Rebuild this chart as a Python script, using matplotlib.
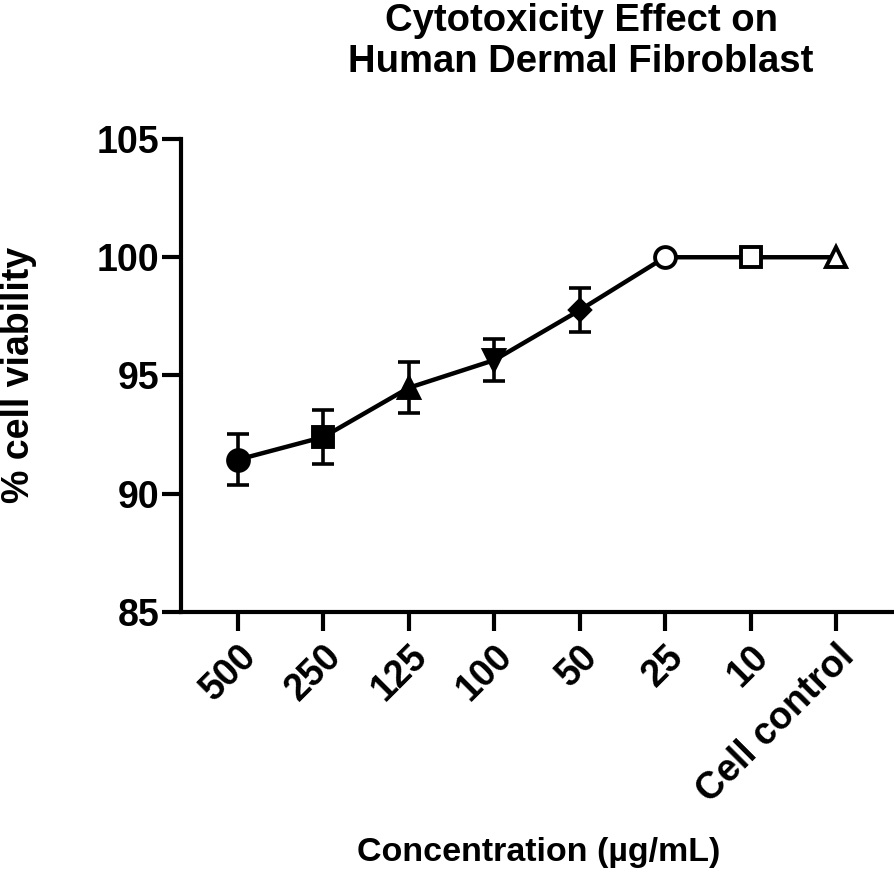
import matplotlib
matplotlib.use("Agg")
import matplotlib.pyplot as plt
import numpy as np

plt.rcParams['font.family'] = ['Liberation Sans', 'DejaVu Sans']
plt.rcParams['font.weight'] = 'bold'

# data
labels = ["500", "250", "125", "100", "50", "25", "10", "Cell control"]
viability = [91.44, 92.40, 94.48, 95.65, 97.76, 100.0, 100.0, 100.0]
sem = [1.09, 1.16, 1.07, 0.90, 0.93, 0.0, 0.0, 0.0]
markers = ["o", "s", "^", "v", "D", "o", "s", "^"]
filled = [True, True, True, True, True, False, False, False]
msizes = [15, 15, 15, 15, 10, 15, 14, 15]

x = np.arange(len(labels))

fig = plt.figure(figsize=(8.94, 8.71), dpi=100)
ax = fig.add_axes([0.2025, 0.2974, 0.7975, 0.543])

ax.plot(x, viability, color="black", lw=3.2, zorder=2)
for i in range(len(x)):
    if sem[i] > 0:
        ax.errorbar(x[i], viability[i], yerr=sem[i], fmt="none", ecolor="black",
                    elinewidth=2.6, capsize=8, capthick=2.6, zorder=1)
    ax.plot(x[i], viability[i], marker=markers[i], ms=msizes[i], color="black",
            mfc="black" if filled[i] else "white", mew=2.8, zorder=3,
            clip_on=False)

ax.set_xlim(-0.667, 7.68)
ax.set_ylim(85, 105)
ax.set_yticks([85, 90, 95, 100, 105])
ax.set_xticks(x)
ax.set_xticklabels(labels, rotation=45, ha="right", rotation_mode="anchor")

for s in ["top", "right"]:
    ax.spines[s].set_visible(False)
for s in ["left", "bottom"]:
    ax.spines[s].set_linewidth(3)
ax.tick_params(axis="both", width=3, length=14, labelsize=27)
ax.tick_params(axis="y", pad=1.5)
ax.tick_params(axis="x", pad=5)

fig.text(0.021, 0.57, "% cell viability", fontsize=27, fontweight="bold",
         rotation=90, ha="center", va="center")
fig.text(0.602, 0.021, "Concentration (\u00b5g/mL)", fontsize=24.5,
         fontweight="bold", ha="center", va="center")
fig.text(0.65, 0.997, "Cytotoxicity Effect on\nHuman Dermal Fibroblast", fontsize=27.5,
         fontweight="bold", ha="center", va="top", linespacing=1.2)

fig.savefig("out.png", dpi=100)
